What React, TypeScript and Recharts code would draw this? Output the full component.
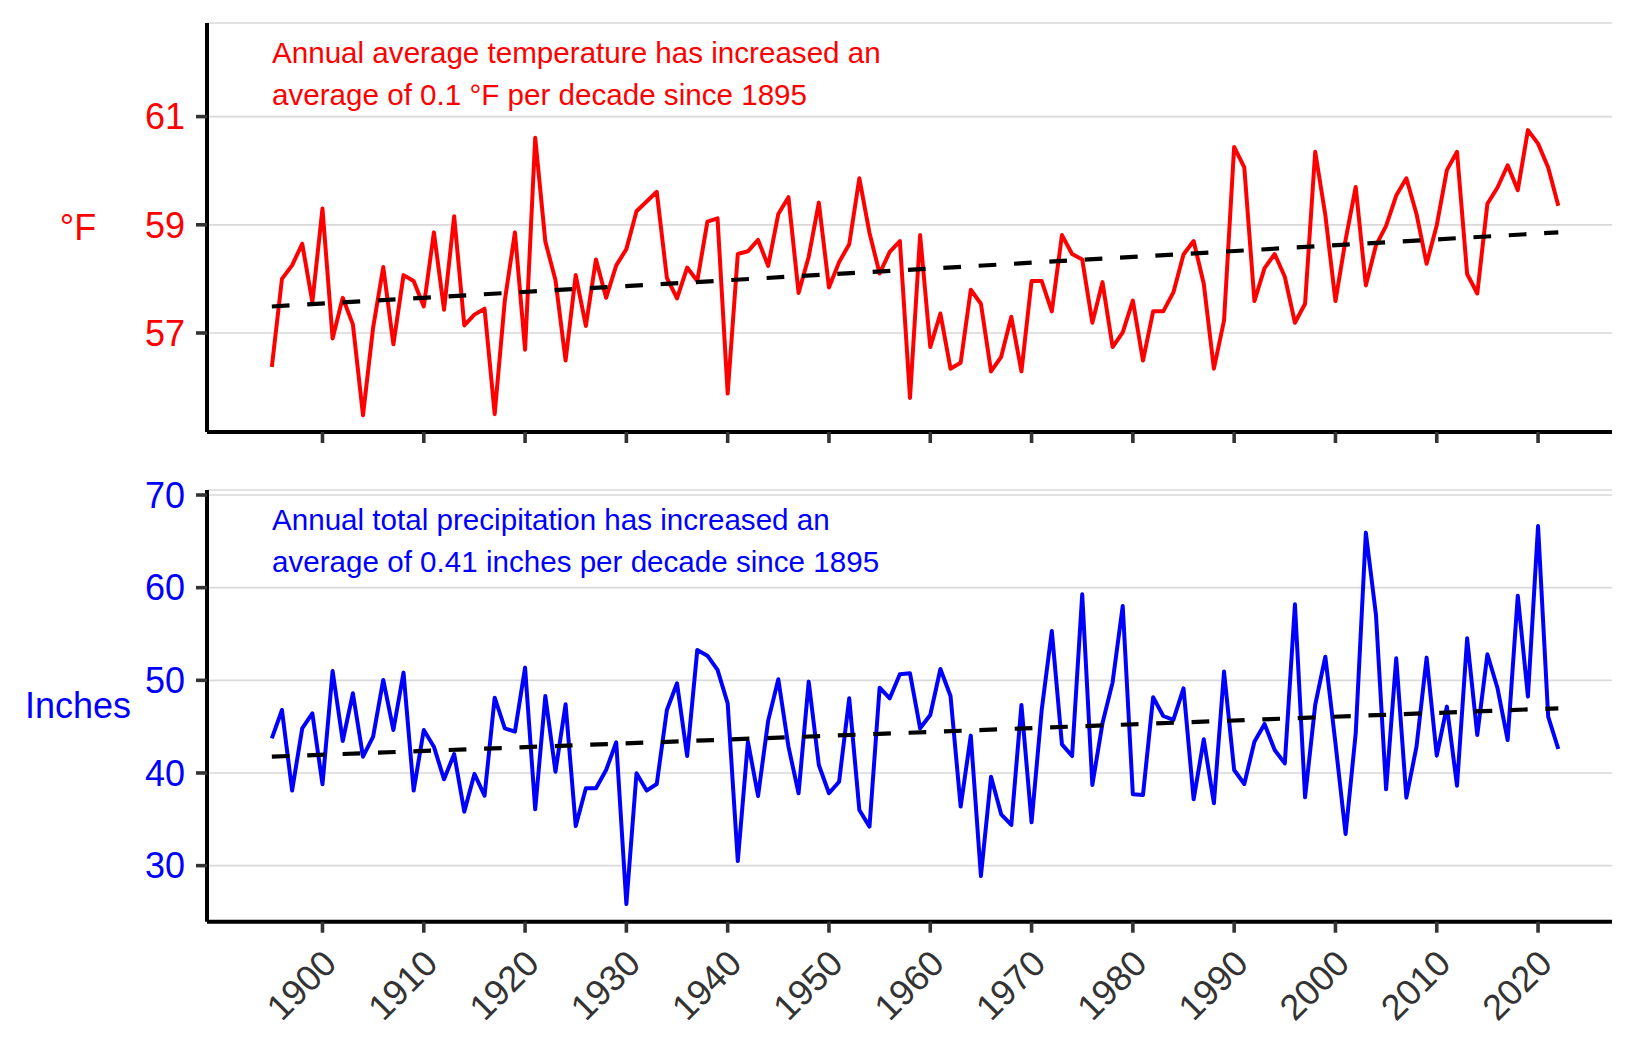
import { LineChart, Line, XAxis, YAxis, CartesianGrid } from "recharts";

const FONT = '"Liberation Sans", Arial, Helvetica, sans-serif';

// one value per year, 1895-2022
const years = [
  1895, 1896, 1897, 1898, 1899,
  1900, 1901, 1902, 1903, 1904, 1905, 1906, 1907, 1908, 1909,
  1910, 1911, 1912, 1913, 1914, 1915, 1916, 1917, 1918, 1919,
  1920, 1921, 1922, 1923, 1924, 1925, 1926, 1927, 1928, 1929,
  1930, 1931, 1932, 1933, 1934, 1935, 1936, 1937, 1938, 1939,
  1940, 1941, 1942, 1943, 1944, 1945, 1946, 1947, 1948, 1949,
  1950, 1951, 1952, 1953, 1954, 1955, 1956, 1957, 1958, 1959,
  1960, 1961, 1962, 1963, 1964, 1965, 1966, 1967, 1968, 1969,
  1970, 1971, 1972, 1973, 1974, 1975, 1976, 1977, 1978, 1979,
  1980, 1981, 1982, 1983, 1984, 1985, 1986, 1987, 1988, 1989,
  1990, 1991, 1992, 1993, 1994, 1995, 1996, 1997, 1998, 1999,
  2000, 2001, 2002, 2003, 2004, 2005, 2006, 2007, 2008, 2009,
  2010, 2011, 2012, 2013, 2014, 2015, 2016, 2017, 2018, 2019,
  2020, 2021, 2022,
];

// annual average temperature (°F)
const temperatureF = [
  56.37, 58.0, 58.25, 58.65, 57.57,
  59.3, 56.9, 57.65, 57.16, 55.48, 57.1, 58.22, 56.79, 58.07, 57.96,
  57.49, 58.86, 57.43, 59.16, 57.14, 57.34, 57.45, 55.5, 57.6, 58.86,
  56.69, 60.61, 58.69, 57.98, 56.49, 58.07, 57.13, 58.36, 57.65, 58.25,
  58.55, 59.25, 59.43, 59.61, 58.02, 57.64, 58.21, 57.96, 59.06, 59.12,
  55.88, 58.46, 58.51, 58.72, 58.24, 59.2, 59.51, 57.74, 58.41, 59.41,
  57.84, 58.31, 58.64, 59.86, 58.85, 58.1, 58.5, 58.7, 55.8, 58.81,
  56.74, 57.36, 56.34, 56.45, 57.8, 57.54, 56.29, 56.56, 57.3, 56.29,
  57.96, 57.96, 57.4, 58.81, 58.46, 58.36, 57.19, 57.94, 56.74, 57.01,
  57.6, 56.49, 57.4, 57.4, 57.75, 58.45, 58.7, 57.91, 56.34, 57.23,
  60.44, 60.06, 57.59, 58.2, 58.46, 58.04, 57.19, 57.54, 60.35, 59.18,
  57.59, 58.72, 59.7, 57.88, 58.62, 58.98, 59.54, 59.86, 59.2, 58.28,
  58.99, 60.01, 60.35, 58.09, 57.73, 59.39, 59.69, 60.1, 59.64, 60.75,
  60.5, 60.06, 59.35,
];

// annual total precipitation (inches)
const precipitationIn = [
  43.74, 46.8, 38.1, 44.82, 46.44,
  38.78, 51.01, 43.45, 48.6, 41.76, 43.92, 50.04, 44.64, 50.83, 38.1,
  44.64, 42.84, 39.32, 42.05, 35.83, 39.9, 37.55, 48.13, 44.82, 44.46,
  51.37, 36.08, 48.31, 40.14, 47.41, 34.28, 38.35, 38.35, 40.32, 43.31,
  25.86, 39.96, 38.1, 38.81, 46.8, 49.68, 41.83, 53.27, 52.66, 51.12,
  47.52, 30.5, 43.38, 37.52, 45.65, 50.11, 42.84, 37.81, 49.86, 40.86,
  37.81, 39.06, 48.06, 36.0, 34.21, 49.21, 48.06, 50.65, 50.76, 44.82,
  46.26, 51.22, 48.31, 36.37, 44.03, 28.88, 39.6, 35.54, 34.39, 47.34,
  34.68, 46.8, 55.32, 43.09, 41.83, 59.28, 38.71, 45.36, 49.78, 58.02,
  37.7, 37.63, 48.17, 46.15, 45.72, 49.14, 37.16, 43.63, 36.73, 50.94,
  40.32, 38.81, 43.38, 45.29, 42.48, 41.04, 58.2, 37.37, 47.34, 52.55,
  43.2, 33.42, 44.28, 65.94, 57.05, 38.24, 52.37, 37.34, 42.84, 52.45,
  41.87, 47.16, 38.63, 54.53, 44.1, 52.81, 49.14, 43.56, 59.14, 48.24,
  66.65, 46.08, 42.59,
];

// linear trend, read at the first and last year
const temperatureTrend = [57.49, 58.86];
const precipitationTrend = [41.76, 46.98];

const yearTicks = [1900, 1910, 1920, 1930, 1940, 1950, 1960, 1970, 1980, 1990, 2000, 2010, 2020];
const temperatureTicks = [57, 59, 61];
const precipitationTicks = [30, 40, 50, 60, 70];

const withTrend = (values: number[], trend: number[]) =>
  years.map((year, i) => ({
    year,
    value: values[i],
    trend: i === 0 ? trend[0] : i === years.length - 1 ? trend[1] : null,
  }));

const tempData = withTrend(temperatureF, temperatureTrend);
const precipData = withTrend(precipitationIn, precipitationTrend);

const X_DOMAIN = [1888.6, 2027.3];

const sideTitle = (text: string, color: string) => (props: any) => {
  const vb = props.viewBox || {};
  return (
    <text
      x={78}
      y={vb.y + vb.height / 2}
      dy="0.35em"
      textAnchor="middle"
      fill={color}
      fontSize={36}
      fontFamily={FONT}
    >
      {text}
    </text>
  );
};

const YearTick = (props: any) => {
  const { x, y, payload } = props;
  const ax = x + 16;
  const ay = y + 33;
  return (
    <text
      x={ax}
      y={ay}
      transform={`rotate(-45, ${ax}, ${ay})`}
      textAnchor="end"
      fill="#333333"
      fontSize={36}
      fontFamily={FONT}
    >
      {payload.value}
    </text>
  );
};

const axisLine = { stroke: "#000000", strokeWidth: 4 };
const tickLine = { stroke: "#333333", strokeWidth: 3.6 };

const App = () => {
  return (
    <div
      style={{
        position: "absolute",
        left: 0,
        top: 0,
        width: 1650,
        height: 1050,
        background: "#ffffff",
        fontFamily: FONT,
      }}
    >
      <div style={{ position: "absolute", left: 0, top: 0 }}>
        <LineChart
          width={1650}
          height={470}
          data={tempData}
          margin={{ top: 23, right: 38, bottom: 8, left: 0 }}
        >
          <CartesianGrid horizontal vertical={false} stroke="#d9d9d9" strokeWidth={1.7} />
          <XAxis
            dataKey="year"
            type="number"
            domain={X_DOMAIN}
            ticks={yearTicks}
            allowDataOverflow
            height={30}
            axisLine={axisLine}
            tickLine={tickLine}
            tickSize={11}
            tick={() => <g />}
          />
          <YAxis
            type="number"
            domain={[55.17, 62.73]}
            ticks={temperatureTicks}
            allowDataOverflow
            width={207}
            axisLine={axisLine}
            tickLine={tickLine}
            tickSize={11}
            tickMargin={11}
            tick={{ fill: "#ff0000", fontSize: 36, fontFamily: FONT }}
            label={sideTitle("°F", "#ff0000")}
          />
          <Line
            type="linear"
            dataKey="value"
            stroke="#ff0000"
            strokeWidth={4}
            strokeLinejoin="round"
            dot={false}
            activeDot={false}
            isAnimationActive={false}
          />
          <Line
            type="linear"
            dataKey="trend"
            stroke="#000000"
            strokeWidth={4.2}
            strokeDasharray="17.7 17.7"
            connectNulls
            dot={false}
            activeDot={false}
            isAnimationActive={false}
          />
        </LineChart>
      </div>

      <div style={{ position: "absolute", left: 0, top: 470 }}>
        <LineChart
          width={1650}
          height={580}
          data={precipData}
          margin={{ top: 20, right: 38, bottom: 18.3, left: 0 }}
        >
          <CartesianGrid horizontal vertical={false} stroke="#d9d9d9" strokeWidth={1.7} />
          <XAxis
            dataKey="year"
            type="number"
            domain={X_DOMAIN}
            ticks={yearTicks}
            allowDataOverflow
            height={110}
            axisLine={axisLine}
            tickLine={tickLine}
            tickSize={11}
            tickMargin={0}
            tick={<YearTick />}
          />
          <YAxis
            type="number"
            domain={[23.95, 70.54]}
            ticks={precipitationTicks}
            allowDataOverflow
            width={207}
            axisLine={axisLine}
            tickLine={tickLine}
            tickSize={11}
            tickMargin={11}
            tick={{ fill: "#0000ff", fontSize: 36, fontFamily: FONT }}
            label={sideTitle("Inches", "#0000ff")}
          />
          <Line
            type="linear"
            dataKey="value"
            stroke="#0000ff"
            strokeWidth={4}
            strokeLinejoin="round"
            dot={false}
            activeDot={false}
            isAnimationActive={false}
          />
          <Line
            type="linear"
            dataKey="trend"
            stroke="#000000"
            strokeWidth={4.2}
            strokeDasharray="17.7 17.7"
            connectNulls
            dot={false}
            activeDot={false}
            isAnimationActive={false}
          />
        </LineChart>
      </div>

      <svg
        width={1650}
        height={1050}
        style={{ position: "absolute", left: 0, top: 0, pointerEvents: "none" }}
      >
        <g fontFamily={FONT} fontSize={29.6}>
          <text x={272} y={63} fill="#ff0000">Annual average temperature has increased an</text>
          <text x={272} y={105} fill="#ff0000">average of 0.1 °F per decade since 1895</text>
          <text x={272} y={530} fill="#0000ff">Annual total precipitation has increased an</text>
          <text x={272} y={572} fill="#0000ff">average of 0.41 inches per decade since 1895</text>
        </g>
      </svg>
    </div>
  );
};

export default App;
